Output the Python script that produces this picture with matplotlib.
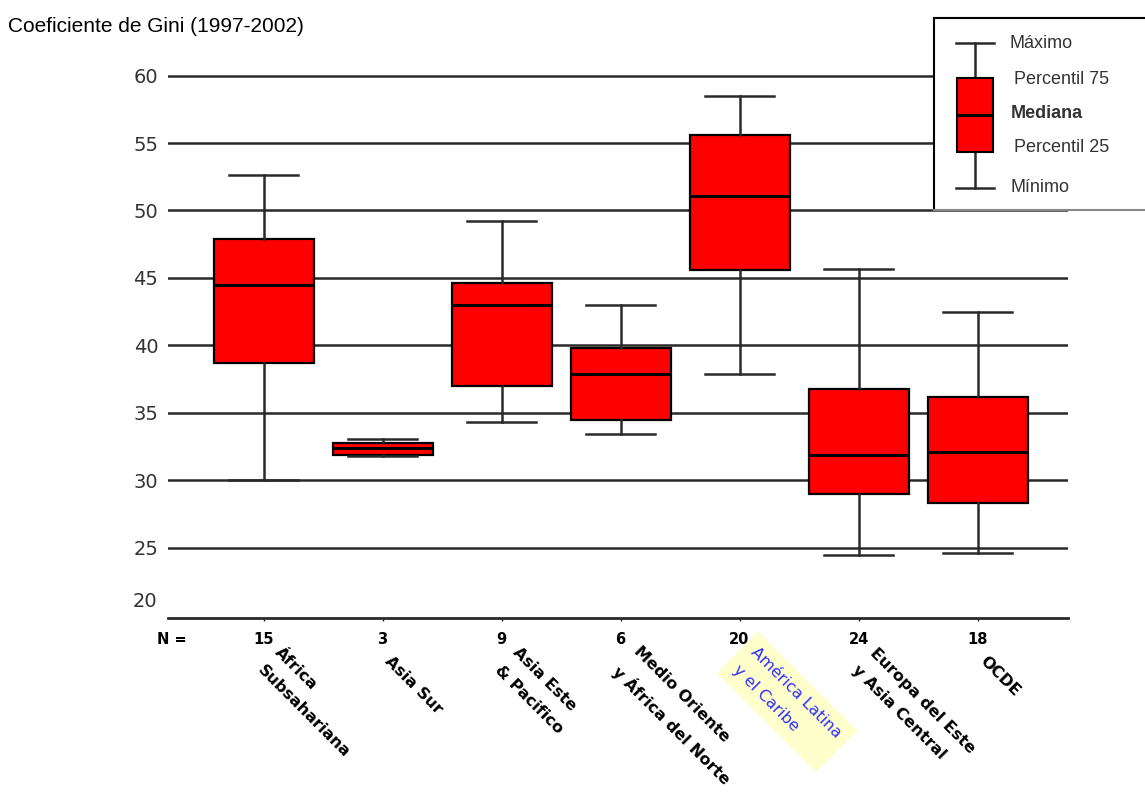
import matplotlib
matplotlib.use('Agg')
import matplotlib.pyplot as plt
from matplotlib.patches import Rectangle

regions = ['África\nSubsahariana', 'Asia Sur', 'Asia Este\n& Pacifico',
           'Medio Oriente\ny África del Norte', 'América Latina\ny el Caribe',
           'Europa del Este\ny Asia Central', 'OCDE']
n_obs = [15, 3, 9, 6, 20, 24, 18]
gini_min = [30.0, 31.8, 34.3, 33.4, 37.9, 24.5, 24.6]
gini_q1 = [38.7, 31.9, 37.0, 34.5, 45.6, 29.0, 28.3]
gini_med = [44.5, 32.4, 43.0, 37.9, 51.1, 31.9, 32.1]
gini_q3 = [47.9, 32.8, 44.6, 39.8, 55.6, 36.8, 36.2]
gini_max = [52.6, 33.1, 49.2, 43.0, 58.5, 45.7, 42.5]
y_ticks = [25, 30, 35, 40, 45, 50, 55, 60]

dark = '#2a2a2a'

fig = plt.figure(figsize=(11.45, 7.92), dpi=100)
ax = fig.add_axes([168 / 1145, 1 - 618 / 792, 900 / 1145, 549.2 / 792])

positions = list(range(1, len(regions) + 1))
stats = []
for i in range(len(regions)):
    stats.append(dict(med=gini_med[i], q1=gini_q1[i], q3=gini_q3[i],
                      whislo=gini_min[i], whishi=gini_max[i], fliers=[]))

ax.bxp(stats, positions=positions, widths=0.84, capwidths=0.58,
       patch_artist=True, showfliers=False, manage_ticks=False,
       boxprops=dict(facecolor='#ff0000', edgecolor='black', linewidth=1.6),
       medianprops=dict(color='black', linewidth=2.2),
       whiskerprops=dict(color=dark, linewidth=1.8),
       capprops=dict(color=dark, linewidth=1.8))

ax.set_xlim(0.197, 7.76)
ax.set_ylim(19.8, 60.5)
ax.set_axisbelow(True)
ax.set_yticks(y_ticks)
ax.set_yticklabels([str(v) for v in y_ticks])
ax.grid(axis='y', color=dark, linewidth=1.8)
ax.tick_params(axis='y', length=0, pad=7, labelsize=14, labelcolor='#333333')
for s in ['left', 'top', 'right']:
    ax.spines[s].set_visible(False)
ax.spines['bottom'].set_color(dark)
ax.spines['bottom'].set_linewidth(2)

ax.set_xticks(positions)
ax.set_xticklabels([str(n) for n in n_obs], fontweight='bold', fontsize=10.5)
ax.tick_params(axis='x', length=2, width=1, color=dark, pad=8)

ax.text(-0.012, 21.0, '20', transform=ax.get_yaxis_transform(), ha='right',
        va='center', fontsize=14, color='#333333')
fig.text(157 / 1145, 1 - 639 / 792, 'N =', ha='left', va='center',
         fontsize=10.5, fontweight='bold')

label_y = (618 - 659) / 549.2
for i, lab in enumerate(regions):
    if lab.startswith('América'):
        ax.text(positions[i] + 0.04, label_y, lab, transform=ax.get_xaxis_transform(),
                rotation=-45, rotation_mode='anchor', ha='left', va='center',
                fontsize=11.5, color='#2f2fff', linespacing=1.8,
                bbox=dict(boxstyle='square,pad=0.6', fc='#ffffcc', ec='none'))
    else:
        ax.text(positions[i] + 0.04, label_y, lab, transform=ax.get_xaxis_transform(),
                rotation=-45, rotation_mode='anchor', ha='left', va='center',
                fontsize=11.5, fontweight='bold', linespacing=1.8)

fig.text(8 / 1145, 1 - 27 / 792, 'Coeficiente de Gini (1997-2002)',
         ha='left', va='center', fontsize=15, family='Liberation Sans')

# legend box in pixel coordinates
lg = fig.add_axes([934 / 1145, 1 - 210 / 792, 216 / 1145, 192 / 792], zorder=5)
lg.set_xlim(934, 1150)
lg.set_ylim(210, 18)
lg.set_xticks([])
lg.set_yticks([])
lg.set_facecolor('white')
lg.spines['right'].set_visible(False)
lg.spines['top'].set_color('black')
lg.spines['left'].set_color('black')
lg.spines['bottom'].set_color('#888888')
for s in ['top', 'left', 'bottom']:
    lg.spines[s].set_linewidth(1.5)
lg.plot([975, 975], [43, 188], color=dark, lw=1.8)
lg.plot([956, 994], [43, 43], color=dark, lw=1.8)
lg.plot([956, 994], [188, 188], color=dark, lw=1.8)
lg.add_patch(Rectangle((957, 78), 36, 74, fc='#ff0000', ec='black', lw=1.5, zorder=3))
lg.plot([958, 992], [115, 115], color='black', lw=2.2, zorder=4)
leg_txt = [('Máximo', 1010, 43, 'normal'), ('Percentil 75', 1014, 79, 'normal'),
           ('Mediana', 1011, 113, 'bold'), ('Percentil 25', 1014, 148, 'normal'),
           ('Mínimo', 1011, 187, 'normal')]
for t, x, y, w in leg_txt:
    lg.text(x, y, t, ha='left', va='center', fontsize=13, fontweight=w,
            color='#333333', family='Liberation Sans')

fig.savefig('out.png', dpi=100)
